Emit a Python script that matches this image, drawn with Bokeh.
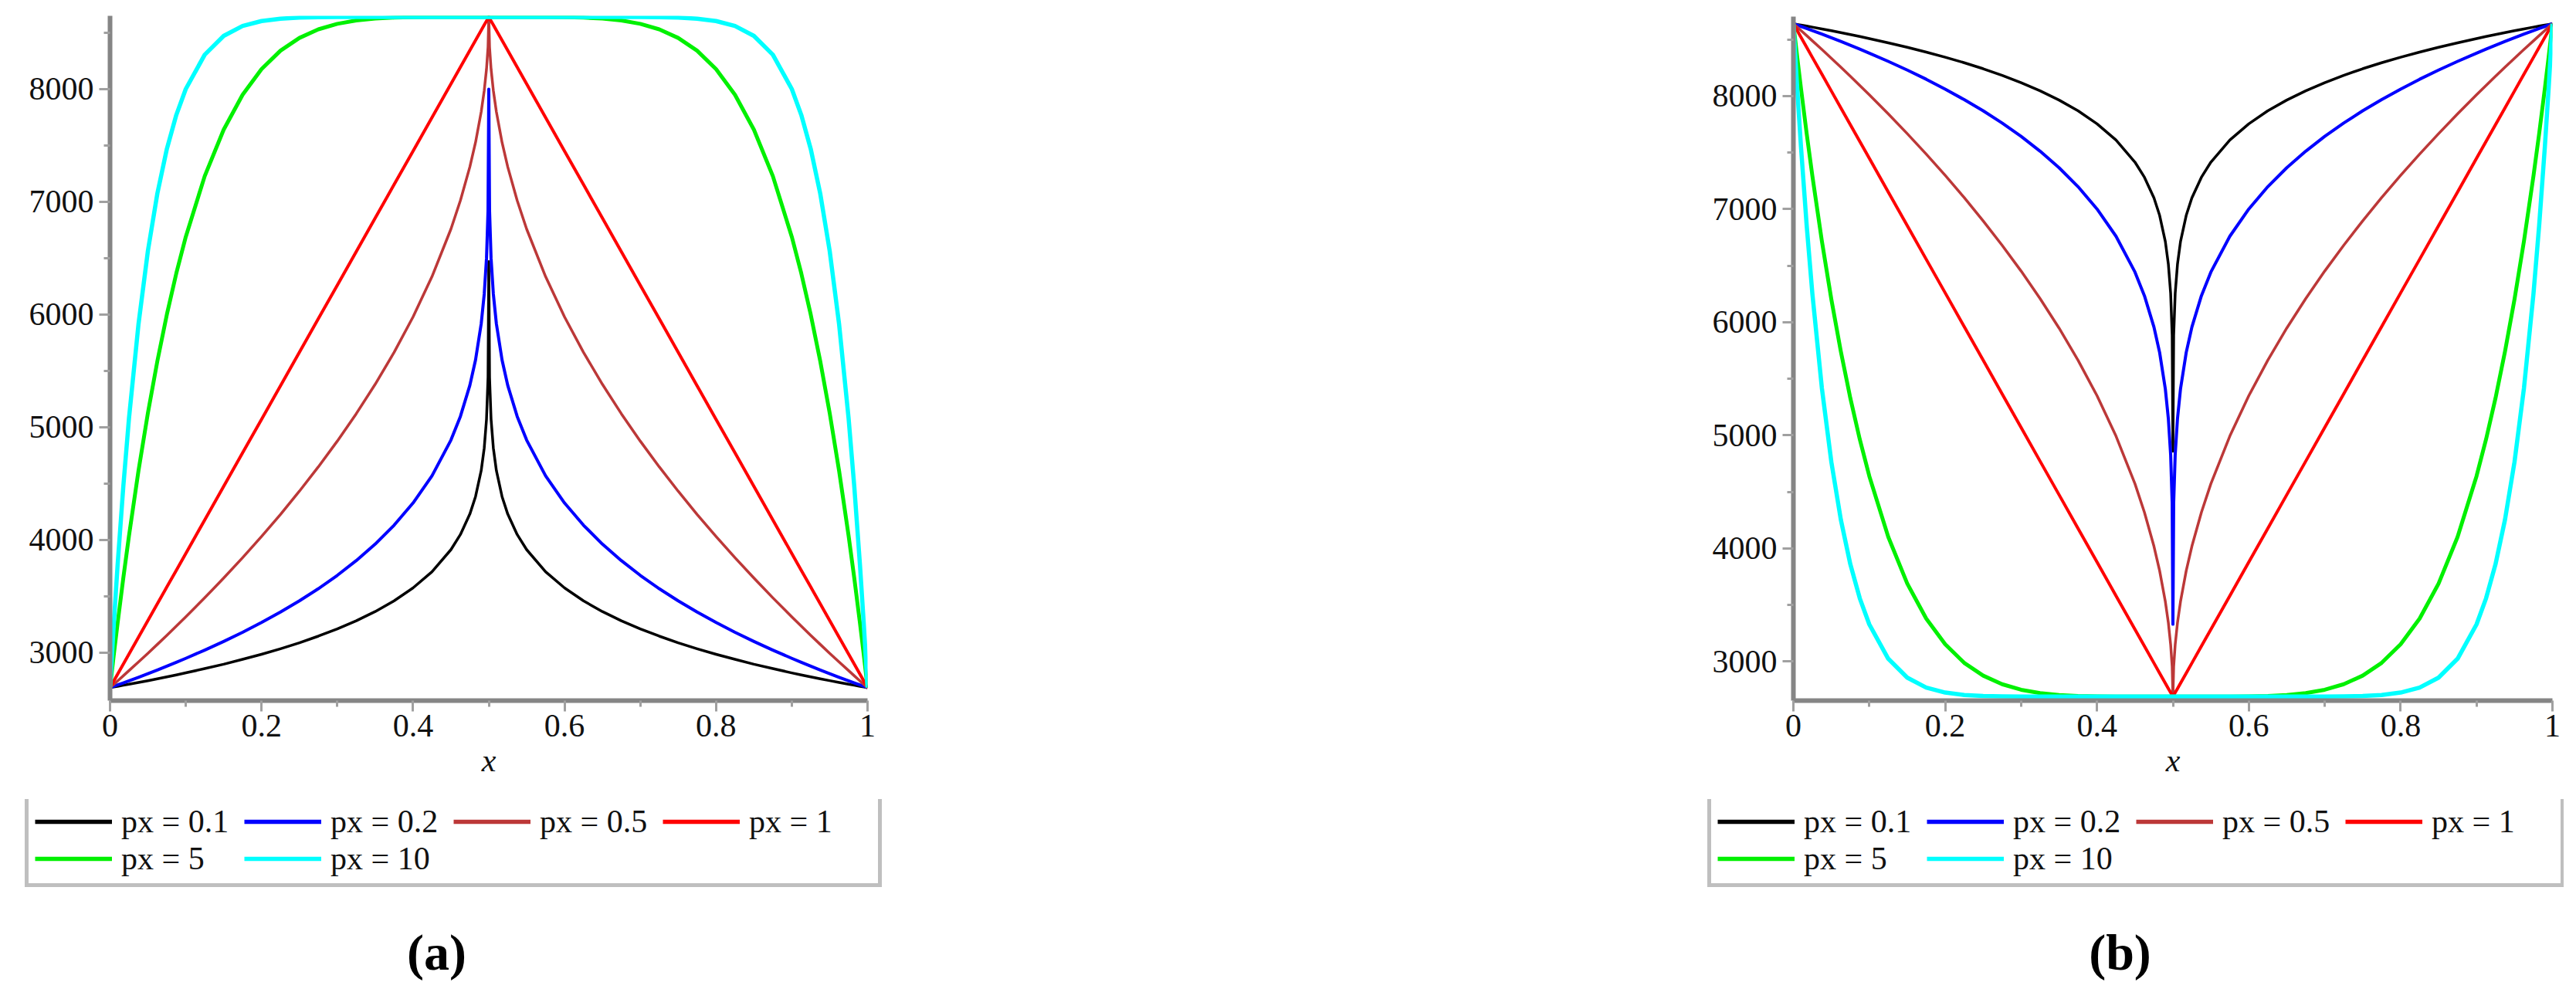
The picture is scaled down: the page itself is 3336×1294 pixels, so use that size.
from bokeh.plotting import figure
from bokeh.models import Range1d, FixedTicker, Legend, LegendItem, Label, CustomJSTickFormatter
from bokeh.layouts import row, column
from bokeh.embed import file_html
from bokeh.resources import INLINE

# ---------------- data ----------------
x = [0, 0.005, 0.01, 0.0175, 0.025, 0.0375, 0.05, 0.0625, 0.075, 0.0875, 0.1, 0.125, 0.15, 0.175,
     0.2, 0.225, 0.25, 0.275, 0.3, 0.325, 0.35, 0.375, 0.4, 0.425, 0.45, 0.4625, 0.475, 0.4825,
     0.49, 0.494, 0.497, 0.499, 0.5, 0.501, 0.503, 0.506, 0.51, 0.5175, 0.525, 0.5375, 0.55, 0.575,
     0.6, 0.625, 0.65, 0.675, 0.7, 0.725, 0.75, 0.775, 0.8, 0.825, 0.85, 0.875, 0.9, 0.9125, 0.925,
     0.9375, 0.95, 0.9625, 0.975, 0.9825, 0.99, 0.995, 1]

labels = ["px = 0.1", "px = 0.2", "px = 0.5", "px = 1", "px = 5", "px = 10"]

# values for 0 <= x <= 0.5 (both panels are mirror-symmetric about x = 0.5)
# panel (a)
a_01 = [2690, 2696, 2702, 2711, 2720, 2736, 2752, 2769, 2786, 2803, 2821, 2859, 2898, 2941, 2986, 3035,
        3088, 3147, 3211, 3283, 3365, 3460, 3575, 3718, 3914, 4048, 4230, 4385, 4616, 4817, 5073, 5444, 6470]
a_02 = [2690, 2702, 2714, 2732, 2751, 2782, 2814, 2847, 2880, 2915, 2950, 3023, 3100, 3181, 3268, 3361,
        3460, 3568, 3686, 3817, 3963, 4131, 4328, 4569, 4886, 5096, 5372, 5597, 5919, 6183, 6500, 6923, 8000]
a_05 = [2690, 2720, 2750, 2795, 2841, 2917, 2995, 3074, 3154, 3236, 3318, 3487, 3662, 3843, 4031, 4227,
        4433, 4649, 4877, 5120, 5381, 5665, 5979, 6336, 6758, 7011, 7310, 7527, 7799, 7988, 8179, 8374, 8640]
a_1 = [2690, 2750, 2809, 2898, 2988, 3136, 3285, 3434, 3583, 3731, 3880, 4178, 4475, 4773, 5070, 5368,
       5665, 5963, 6260, 6558, 6855, 7153, 7450, 7748, 8045, 8194, 8343, 8432, 8521, 8569, 8604, 8628, 8640]
a_5 = [2690, 2982, 3262, 3661, 4036, 4611, 5127, 5588, 6000, 6366, 6690, 7228, 7640, 7950, 8177, 8341,
       8454, 8530, 8579, 8609, 8626, 8634, 8638, 8640, 8640, 8640, 8640, 8640, 8640, 8640, 8640, 8640, 8640]
a_10 = [2690, 3259, 3778, 4473, 5078, 5911, 6565, 7075, 7469, 7771, 8001, 8305, 8472, 8560, 8604, 8625,
        8634, 8638, 8639, 8640, 8640, 8640, 8640, 8640, 8640, 8640, 8640, 8640, 8640, 8640, 8640, 8640, 8640]

# panel (b)
b_01 = [8640, 8634, 8628, 8619, 8610, 8594, 8578, 8561, 8544, 8527, 8509, 8471, 8432, 8389, 8344, 8295,
        8242, 8183, 8119, 8047, 7965, 7870, 7755, 7612, 7416, 7282, 7100, 6945, 6714, 6513, 6257, 5886, 4860]
b_02 = [8640, 8628, 8616, 8598, 8579, 8548, 8516, 8483, 8450, 8415, 8380, 8307, 8230, 8149, 8062, 7969,
        7870, 7762, 7644, 7513, 7367, 7199, 7002, 6761, 6444, 6234, 5958, 5733, 5411, 5147, 4830, 4407, 3330]
b_05 = [8640, 8610, 8580, 8535, 8489, 8413, 8335, 8256, 8176, 8094, 8012, 7843, 7668, 7487, 7299, 7103,
        6897, 6681, 6453, 6210, 5949, 5665, 5351, 4994, 4572, 4319, 4020, 3803, 3531, 3342, 3151, 2956, 2690]
b_1 = [8640, 8580, 8521, 8432, 8342, 8194, 8045, 7896, 7747, 7599, 7450, 7152, 6855, 6557, 6260, 5962,
       5665, 5367, 5070, 4772, 4475, 4177, 3880, 3582, 3285, 3136, 2987, 2898, 2809, 2761, 2726, 2702, 2690]
b_5 = [8640, 8348, 8068, 7669, 7294, 6719, 6203, 5742, 5330, 4964, 4640, 4102, 3690, 3380, 3153, 2989,
       2876, 2800, 2751, 2721, 2704, 2696, 2692, 2690, 2690, 2690, 2690, 2690, 2690, 2690, 2690, 2690, 2690]
b_10 = [8640, 8071, 7552, 6857, 6252, 5419, 4765, 4255, 3861, 3559, 3329, 3025, 2858, 2770, 2726, 2705,
        2696, 2692, 2691, 2690, 2690, 2690, 2690, 2690, 2690, 2690, 2690, 2690, 2690, 2690, 2690, 2690, 2690]

x_ticks = [0, 0.2, 0.4, 0.6, 0.8, 1]
x_minor = [0.1, 0.3, 0.5, 0.7, 0.9]
y_ticks = [3000, 4000, 5000, 6000, 7000, 8000]
y_minor = [3500, 4500, 5500, 6500, 7500, 8500]


def mirror(half):
    # the curve for 0.5 < x <= 1 is the reflection of the one for 0 <= x < 0.5
    return half + half[-2::-1]


# ---------------- styles ----------------
colors = ["#000000", "#0000FF", "#BC3838", "#FF0000", "#00F000", "#00FFFF"]
widths = [3.5, 4, 3.5, 4, 5, 5.5]
FONT = "Liberation Serif"
AXIS_GRAY = "#858585"
TICK_GRAY = "#a0a0a0"
W = 1660
H_TOP = 1035
H_BOT = 1278 - H_TOP
LEG_H = 2 * 8 + 2 * 48


def make_top(series, y0, y1, ml, mr, mt, frame_h):
    p = figure(width=W, height=H_TOP, x_range=Range1d(0, 1), y_range=Range1d(y0, y1),
               output_backend="svg", toolbar_location=None, title=None,
               min_border_left=ml, min_border_right=mr, min_border_top=mt,
               min_border_bottom=H_TOP - mt - frame_h)
    p.frame_align = False
    p.xgrid.visible = False
    p.ygrid.visible = False
    p.outline_line_color = None
    p.background_fill_color = "white"
    p.border_fill_color = "white"

    for ys, c, w in zip(series, colors, widths):
        p.line(x, mirror(ys), line_color=c, line_width=w, line_join="round")

    p.xaxis.ticker = FixedTicker(ticks=x_ticks, minor_ticks=x_minor)
    p.yaxis.ticker = FixedTicker(ticks=y_ticks, minor_ticks=y_minor)
    p.xaxis.formatter = CustomJSTickFormatter(code="return String(tick)")
    for ax in (p.xaxis[0], p.yaxis[0]):
        ax.axis_line_color = AXIS_GRAY
        ax.axis_line_width = 6
        ax.major_tick_line_color = TICK_GRAY
        ax.major_tick_line_width = 3
        ax.major_tick_in = 0
        ax.major_tick_out = 14
        ax.minor_tick_line_color = TICK_GRAY
        ax.minor_tick_line_width = 3
        ax.minor_tick_in = 0
        ax.minor_tick_out = 8
        ax.major_label_text_font = FONT
        ax.major_label_text_font_size = "42px"
        ax.major_label_text_color = "#111111"
    p.yaxis.major_label_standoff = 7
    p.xaxis.major_label_standoff = 4
    p.xaxis.axis_label = "x"
    p.xaxis.axis_label_text_font = FONT
    p.xaxis.axis_label_text_font_style = "italic"
    p.xaxis.axis_label_text_font_size = "42px"
    p.xaxis.axis_label_text_color = "#111111"
    p.xaxis.axis_label_standoff = 5
    return p


def make_bottom(series, caption, legend_x, caption_x):
    # legend + caption strip under each panel; the legend's line samples come from
    # the same series (drawn far outside this strip's visible range)
    q = figure(width=W, height=H_BOT, x_range=Range1d(0, 1), y_range=Range1d(0, 1),
               output_backend="svg", toolbar_location=None, title=None,
               x_axis_type=None, y_axis_type=None, min_border=0,
               min_border_left=0, min_border_right=0, min_border_top=0, min_border_bottom=0)
    q.frame_align = False
    q.xgrid.visible = False
    q.ygrid.visible = False
    q.outline_line_color = None
    q.background_fill_color = "white"
    q.border_fill_color = "white"
    rs = [q.line(x, mirror(ys), line_color=c, line_width=5.5) for ys, c in zip(series, colors)]
    items = [LegendItem(label=lab, renderers=[r]) for lab, r in zip(labels, rs)]
    legend = Legend(items=items, location=(legend_x, H_BOT - 2 - LEG_H), orientation="horizontal",
                    ncols=4, glyph_width=100, glyph_height=48, label_height=48, label_width=159,
                    label_standoff=12, spacing=0, padding=8, margin=0,
                    border_line_color="#808080", border_line_width=5,
                    background_fill_color="white", background_fill_alpha=1,
                    label_text_font=FONT, label_text_font_size="42px",
                    label_text_color="#111111")
    q.add_layout(legend)
    cap = Label(x=caption_x, y=45, x_units="screen", y_units="screen", text=caption,
                text_font=FONT, text_font_size="66px", text_font_style="bold",
                text_align="center", text_baseline="middle", text_color="black")
    q.add_layout(cap)
    return q


sa = [a_01, a_02, a_05, a_1, a_5, a_10]
sb = [b_01, b_02, b_05, b_1, b_5, b_10]
pa = make_top(sa, 2575, 8650, 142, 537, 20, 887)
pb = make_top(sb, 2655, 8703, 662, 15, 21, 886)
qa = make_bottom(sa, "(a)", 32, 565)
qb = make_bottom(sb, "(b)", 551, 1085)

layout = row(column(pa, qa, spacing=0), column(pb, qb, spacing=0), spacing=0)
open("out.html", "w").write(file_html(layout, INLINE))
